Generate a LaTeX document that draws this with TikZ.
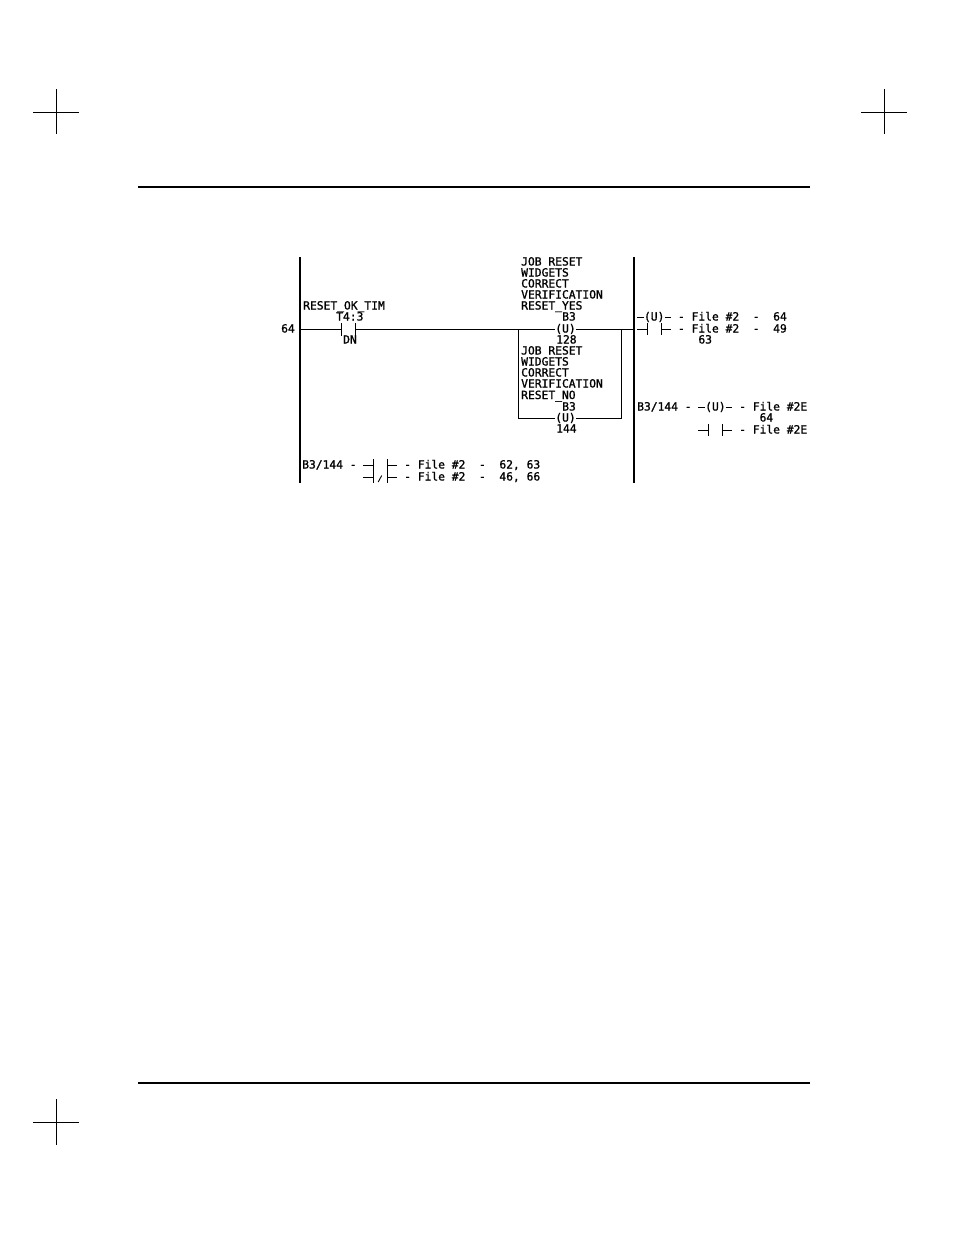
\documentclass[tikz,border=0pt]{standalone}
\usepackage{fontspec}
\newfontfamily\plcmono{DejaVu Sans Mono}[FakeBold=1.2]
\tikzset{
  lbl/.style={anchor=base west, inner sep=0pt, font=\plcmono\fontsize{11.3}{11.3}\selectfont},
  lble/.style={anchor=base east, inner sep=0pt, font=\plcmono\fontsize{11.3}{11.3}\selectfont},
  rail/.style={line width=1.3pt},
  wire/.style={line width=0.85pt},
  rulebar/.style={line width=2pt},
  cropmark/.style={line width=1pt},
  coil/.style={anchor=base, inner sep=0pt, fill=white, font=\plcmono\fontsize{11.3}{11.3}\selectfont}
}
% contact symbol: #1 = start x, #2 = centre y
\newcommand\plccontact[2]{%
  \draw[wire] (#1,#2) -- ({#1+10},#2);
  \draw[wire] ({#1+10},{#2-6}) -- ({#1+10},{#2+6});
  \draw[wire] ({#1+24},{#2-6}) -- ({#1+24},{#2+6});
  \draw[wire] ({#1+24},#2) -- ({#1+34},#2);
}
\newcommand\plcslash[2]{%
  \draw[line width=0.9pt] ({#1+15},{#2+5}) -- ({#1+18.5},{#2-1.5});
}
\begin{document}
\begin{tikzpicture}[x=1pt,y=-1pt]
\useasboundingbox (0,0) rectangle (954,1235);
\fill[white] (0,0) rectangle (954,1235);

% crop marks
\draw[cropmark] (33,112) -- (79,112);
\draw[cropmark] (56,89) -- (56,134);
\draw[cropmark] (861,112) -- (907,112);
\draw[cropmark] (884,89) -- (884,134);
\draw[cropmark] (33,1122) -- (79,1122);
\draw[cropmark] (56,1099) -- (56,1145);

% page rules
\draw[rulebar] (138,187) -- (810,187);
\draw[rulebar] (138,1083) -- (810,1083);

% rails
\coordinate (lrt) at (300,257);
\coordinate (lrb) at (300,483);
\coordinate (rrt) at (634,257);
\coordinate (rrb) at (634,483);
\draw[rail] (lrt) -- (lrb);
\draw[rail] (rrt) -- (rrb);

% rung 64
\node[lble] (rung) at (295,332.5) {64};
\coordinate (rl) at (300,329);
\coordinate (c1) at (341,329);
\coordinate (c2) at (355,329);
\coordinate (bl) at (518,329);
\coordinate (br) at (621,329);
\coordinate (rr) at (634,329);
\draw[wire] (rl) -- (c1);
\draw[wire] (341,323) -- (341,336);
\draw[wire] (355,323) -- (355,336);
\draw[wire] (c2) -- (rr);
% branch
\coordinate (bl2) at (518,418);
\coordinate (br2) at (621,418);
\draw[wire] (bl) -- (bl2) -- (br2) -- (br);

\node[lbl] (t1) at (303,309.5) {RESET\_OK\_TIM};
\node[lbl] (t2) at (336,320.5) {T4:3};
\node[lbl] (t3) at (343,343.5) {DN};

% upper coil
\node[lbl] (u1) at (521,265.5) {JOB RESET};
\node[lbl] (u2) at (521,276.5) {WIDGETS};
\node[lbl] (u3) at (521,287.5) {CORRECT};
\node[lbl] (u4) at (521,298.5) {VERIFICATION};
\node[lbl] (u5) at (521,309.5) {RESET\_YES};
\node[lbl] (u6) at (562,320.5) {B3};
\node[coil] (u7) at (565.5,332.5) {(U)};
\node[lbl] (u8) at (556,343.5) {128};

% lower coil
\node[lbl] (l1) at (521,354.5) {JOB RESET};
\node[lbl] (l2) at (521,365.5) {WIDGETS};
\node[lbl] (l3) at (521,376.5) {CORRECT};
\node[lbl] (l4) at (521,387.5) {VERIFICATION};
\node[lbl] (l5) at (521,399) {RESET\_NO};
\node[lbl] (l6) at (562,410.5) {B3};
\node[coil] (l7) at (565.5,421.5) {(U)};
\node[lbl] (l8) at (556,432.5) {144};

% right cross reference
\draw[wire] (637,317) -- (643.5,317);
\node[lbl] (r1a) at (643.8,320.5) {(U)};
\draw[wire] (664.5,317) -- (671,317);
\node[lbl] (r1b) at (677.8,320.5) {-};
\node[lbl] (r1c) at (691.4,320.5) {File \#2};
\node[lbl] (r1d) at (752.6,320.5) {-};
\node[lbl] (r1e) at (773,320.5) {64};

\plccontact{637}{329}
\node[lbl] (r2b) at (677.8,332.5) {-};
\node[lbl] (r2c) at (691.4,332.5) {File \#2};
\node[lbl] (r2d) at (752.6,332.5) {-};
\node[lbl] (r2e) at (773,332.5) {49};
\node[lbl] (r3) at (698.2,343.5) {63};

\node[lbl] (r4a) at (637,410.5) {B3/144};
\node[lbl] (r4b) at (684.6,410.5) {-};
\draw[wire] (698.2,407) -- (704.7,407);
\node[lbl] (r4c) at (705,410.5) {(U)};
\draw[wire] (725.7,407) -- (732.2,407);
\node[lbl] (r4d) at (739,410.5) {-};
\node[lbl] (r4e) at (752.6,410.5) {File \#2E};
\node[lbl] (r5) at (759.4,421.5) {64};
\plccontact{698.2}{430}
\node[lbl] (r6d) at (739,433.5) {-};
\node[lbl] (r6e) at (752.6,433.5) {File \#2E};

% bottom-left cross reference
\node[lbl] (b1a) at (302,468.5) {B3/144};
\node[lbl] (b1b) at (349.6,468.5) {-};
\plccontact{363.2}{465}
\node[lbl] (b1c) at (404,468.5) {-};
\node[lbl] (b1d) at (417.6,468.5) {File \#2};
\node[lbl] (b1e) at (478.8,468.5) {-};
\node[lbl] (b1f) at (499.2,468.5) {62, 63};

\plccontact{363.2}{477}
\plcslash{363.2}{477}
\node[lbl] (b2c) at (404,480.5) {-};
\node[lbl] (b2d) at (417.6,480.5) {File \#2};
\node[lbl] (b2e) at (478.8,480.5) {-};
\node[lbl] (b2f) at (499.2,480.5) {46, 66};
\end{tikzpicture}
\end{document}
